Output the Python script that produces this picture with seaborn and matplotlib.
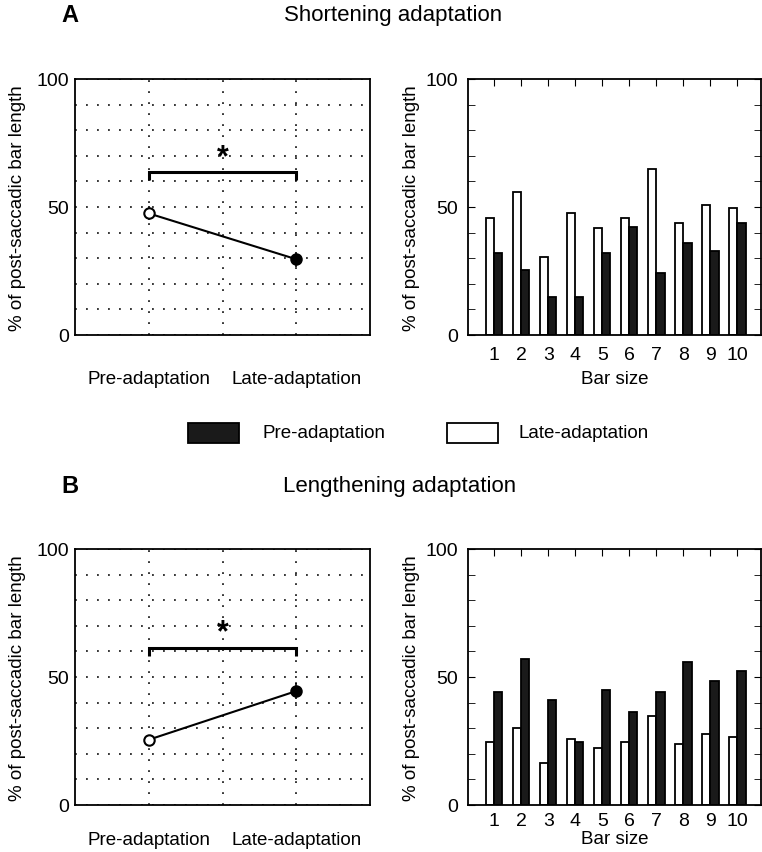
import matplotlib
matplotlib.use("Agg")
import matplotlib.pyplot as plt
import seaborn as sns
import pandas as pd
import numpy as np
from matplotlib.patches import Rectangle

sns.set_style("ticks")
plt.rcParams['font.family'] = ['Liberation Sans', 'DejaVu Sans']
plt.rcParams['text.color'] = 'black'
plt.rcParams['axes.labelcolor'] = 'black'
plt.rcParams['xtick.color'] = 'black'
plt.rcParams['ytick.color'] = 'black'

# ---- data ----
bar_sizes = ["1", "2", "3", "4", "5", "6", "7", "8", "9", "10"]
conditions = ["Pre-adaptation", "Late-adaptation"]

short_late = [45.6, 56.0, 30.3, 47.7, 41.7, 45.6, 64.8, 43.6, 50.9, 49.6]
short_pre = [32.0, 25.3, 15.0, 15.0, 32.0, 42.1, 24.2, 35.8, 32.8, 43.6]
long_late = [24.7, 30.1, 16.5, 25.8, 22.4, 24.6, 34.9, 23.7, 27.6, 26.7]
long_pre = [44.0, 56.9, 41.0, 24.5, 44.8, 36.2, 44.0, 56.0, 48.3, 52.5]

short_means = [47.5, 29.6]
short_err = [2.7, 3.0]
long_means = [25.5, 44.5]
long_err = [1.0, 3.0]
short_bracket = 63.5
long_bracket = 61.3

W, H = 762, 853
fig = plt.figure(figsize=(W / 100, H / 100), dpi=100)

def ax_rect(x0, y0, x1, y1):
    return [x0 / W, 1 - y1 / H, (x1 - x0) / W, (y1 - y0) / H]

FS_TICK = 14
FS_LAB = 13.5
YL = "% of post-saccadic bar length"

def line_panel(ax, means, errs, bracket, xpad):
    xs = [1, 2]
    ax.plot(xs, means, color="black", lw=1.5, zorder=3)
    ax.errorbar(xs, means, yerr=errs, fmt="none", ecolor="black", elinewidth=1.2, capsize=0, zorder=3)
    ax.plot([xs[0]], [means[0]], "o", ms=7.5, mfc="white", mec="black", mew=1.5, zorder=4)
    ax.plot([xs[1]], [means[1]], "o", ms=7.5, mfc="black", mec="black", mew=1.5, zorder=4)
    ax.plot([1, 1, 2, 2], [bracket - 3, bracket, bracket, bracket - 3], color="black", lw=2.2,
            solid_joinstyle="miter", solid_capstyle="butt", zorder=3)
    ax.text(1.5, bracket + 6.0, "*", ha="center", va="center", fontsize=22, fontweight="bold", zorder=3)
    ax.set_xlim(0.5, 2.5)
    ax.set_ylim(0, 100)
    ax.set_yticks(np.arange(0, 101, 10))
    ax.set_yticklabels(["0" if v == 0 else "50" if v == 50 else "100" if v == 100 else "" for v in range(0, 101, 10)])
    ax.set_xticks([1, 1.5, 2])
    ax.set_xticklabels(["Pre-adaptation", "", "Late-adaptation"])
    ax.grid(True, color="black", linestyle=(0, (1.2, 6)), lw=1.1)
    ax.tick_params(axis="x", length=0, pad=xpad, labelsize=FS_LAB)
    ax.tick_params(axis="y", length=0, pad=4, labelsize=FS_TICK)
    ax.set_ylabel(YL, fontsize=FS_LAB, labelpad=8)
    for s in ax.spines.values():
        s.set_color("black")
        s.set_linewidth(1.3)

def bar_panel(ax, late, pre, xpad, xlabpad):
    df = pd.DataFrame({
        "size": bar_sizes * 2,
        "value": late + pre,
        "cond": ["Late-adaptation"] * 10 + ["Pre-adaptation"] * 10,
    })
    sns.barplot(data=df, x="size", y="value", hue="cond", order=bar_sizes,
                hue_order=["Late-adaptation", "Pre-adaptation"],
                palette={"Late-adaptation": "white", "Pre-adaptation": "#1a1a1a"},
                edgecolor="black", linewidth=1.3, width=0.6, saturation=1,
                errorbar=None, legend=False, ax=ax)
    ax.set_xlim(-0.97, 9.87)
    ax.set_ylim(0, 100)
    ax.set_yticks([0, 50, 100])
    ax.set_yticks(np.arange(0, 101, 10), minor=True)
    ax.tick_params(axis="y", which="both", direction="in", left=True, right=True, labelsize=FS_TICK, pad=7)
    ax.tick_params(axis="y", which="both", length=5)
    ax.tick_params(axis="x", direction="in", top=True, bottom=False, length=5, labelsize=FS_TICK, pad=xpad)
    ax.set_xlabel("Bar size", fontsize=FS_LAB, labelpad=xlabpad)
    ax.set_ylabel(YL, fontsize=FS_LAB, labelpad=4)
    for s in ax.spines.values():
        s.set_visible(True)
        s.set_color("black")
        s.set_linewidth(1.3)

# Panel A
axA1 = fig.add_axes(ax_rect(75, 80, 370, 336))
line_panel(axA1, short_means, short_err, short_bracket, xpad=25)
axA2 = fig.add_axes(ax_rect(468, 80, 761, 336))
bar_panel(axA2, short_late, short_pre, xpad=8, xlabpad=5)

# Panel B
axB1 = fig.add_axes(ax_rect(75, 550, 370, 806))
line_panel(axB1, long_means, long_err, long_bracket, xpad=19)
axB2 = fig.add_axes(ax_rect(468, 550, 761, 806))
bar_panel(axB2, long_late, long_pre, xpad=5, xlabpad=1)

# Titles
fig.text(61 / W, 1 - 15 / H, "A", fontsize=17, fontweight="bold", ha="left", va="center")
fig.text(393 / W, 1 - 15 / H, "Shortening adaptation", fontsize=16, ha="center", va="center")
fig.text(61 / W, 1 - 487 / H, "B", fontsize=17, fontweight="bold", ha="left", va="center")
fig.text(400 / W, 1 - 487 / H, "Lengthening adaptation", fontsize=16, ha="center", va="center")

# Legend
fig.patches.append(Rectangle((188 / W, 1 - 444 / H), 51 / W, 20 / H, transform=fig.transFigure,
                             facecolor="#1a1a1a", edgecolor="black", lw=1.3))
fig.text(262 / W, 1 - 434 / H, conditions[0], fontsize=FS_LAB, ha="left", va="center")
fig.patches.append(Rectangle((447 / W, 1 - 444 / H), 51 / W, 20 / H, transform=fig.transFigure,
                             facecolor="white", edgecolor="black", lw=1.3))
fig.text(519 / W, 1 - 434 / H, conditions[1], fontsize=FS_LAB, ha="left", va="center")

fig.savefig("out.png", dpi=100)
